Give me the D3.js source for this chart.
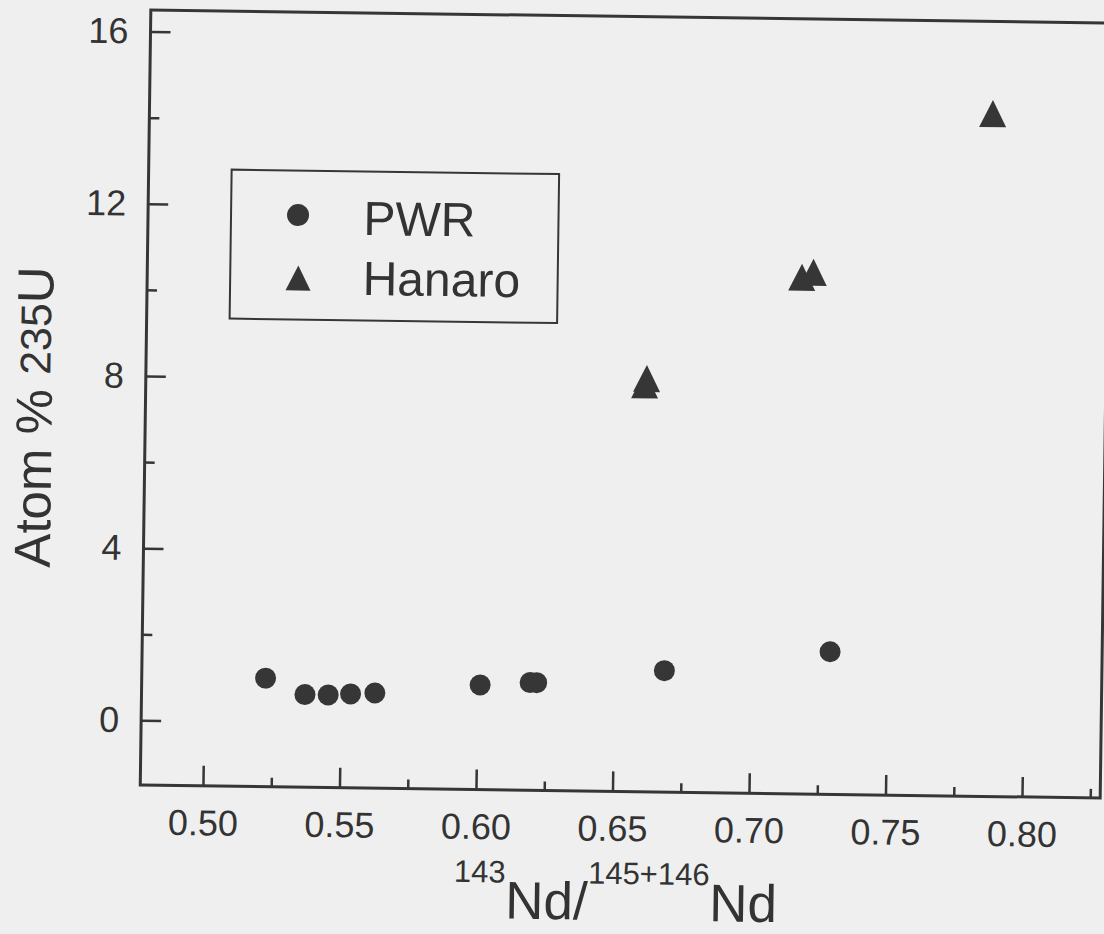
<!DOCTYPE html>
<html>
<head>
<meta charset="utf-8">
<script src="https://cdn.jsdelivr.net/npm/d3@7"></script>
<style>
  body { margin: 0; background: #efefef; }
  svg { display: block; }
  text { font-family: "Liberation Sans", Arial, sans-serif; fill: #333; }
</style>
</head>
<body>
<script>
// dati
var pwrX = [0.5224, 0.5369, 0.5454, 0.5536, 0.5625, 0.6010, 0.6193, 0.6217, 0.6684, 0.7290];
var pwrY = [1.02, 0.65, 0.65, 0.68, 0.71, 0.93, 1.00, 1.00, 1.32, 1.81];
var hanaroX = [0.6605, 0.6598, 0.7168, 0.7210, 0.7859];
var hanaroY = [8.10, 7.95, 10.50, 10.62, 14.36];

var xMajor = [0.50, 0.55, 0.60, 0.65, 0.70, 0.75, 0.80];
var xMinor = [0.525, 0.575, 0.625, 0.675, 0.725, 0.775, 0.825];
var yMajor = [0, 4, 8, 12, 16];
var yMinor = [2, 6, 10, 14];
var legendNames = ["PWR", "Hanaro"];

var W = 1104, H = 934;
var plot = { left: 145.5, right: 1105.5, top: 16.5, bottom: 791.5 };
var ink = "#363636";

var svg = d3.select("body").append("svg")
  .attr("width", W)
  .attr("height", H);

// la scansione originale e' leggermente ruotata
var g = svg.append("g")
  .attr("transform", "rotate(0.78, 625.5, 404)");

var x = d3.scaleLinear()
  .domain([0.47704, 0.82864])
  .range([plot.left, plot.right]);

var y = d3.scaleLinear()
  .domain([-1.5, 16.5])
  .range([plot.bottom, plot.top]);

// assi
var xAxis = g.append("g")
  .attr("transform", "translate(0," + plot.bottom + ")")
  .call(d3.axisBottom(x).tickValues(xMajor).tickSize(-20).tickPadding(24)
    .tickFormat(d3.format(".2f")));
var xAxisMinor = g.append("g")
  .attr("transform", "translate(0," + plot.bottom + ")")
  .call(d3.axisBottom(x).tickValues(xMinor).tickSize(-9).tickFormat(""));

var yAxis = g.append("g")
  .attr("transform", "translate(" + plot.left + ",0)")
  .call(d3.axisLeft(y).tickValues(yMajor).tickSize(-20).tickPadding(22));
var yAxisMinor = g.append("g")
  .attr("transform", "translate(" + plot.left + ",0)")
  .call(d3.axisLeft(y).tickValues(yMinor).tickSize(-10).tickFormat(""));

[xAxis, xAxisMinor, yAxis, yAxisMinor].forEach(function (a) {
  a.select(".domain").remove();
  a.selectAll("line").attr("stroke", ink).attr("stroke-width", 2.5);
  a.selectAll("text").style("font-size", "36px").attr("fill", "#333");
});

// cornice
g.append("rect")
  .attr("x", plot.left)
  .attr("y", plot.top)
  .attr("width", plot.right - plot.left)
  .attr("height", plot.bottom - plot.top)
  .attr("fill", "none")
  .attr("stroke", ink)
  .attr("stroke-width", 3);

function triangle(cx, cy, w, h) {
  return "M" + cx + "," + (cy - h / 2) +
    "L" + (cx - w / 2) + "," + (cy + h / 2) +
    "L" + (cx + w / 2) + "," + (cy + h / 2) + "Z";
}

// punti PWR
g.selectAll("circle.pwr")
  .data(d3.range(pwrX.length))
  .enter()
  .append("circle")
  .attr("class", "pwr")
  .attr("cx", function (i) { return x(pwrX[i]); })
  .attr("cy", function (i) { return y(pwrY[i]); })
  .attr("r", 10.5)
  .attr("fill", ink);

// punti Hanaro
g.selectAll("path.hanaro")
  .data(d3.range(hanaroX.length))
  .enter()
  .append("path")
  .attr("class", "hanaro")
  .attr("d", function (i) { return triangle(x(hanaroX[i]), y(hanaroY[i]), 27, 27); })
  .attr("fill", ink);

// legenda
var leg = g.append("g");
leg.append("rect")
  .attr("x", 228.5).attr("y", 175)
  .attr("width", 327.5).attr("height", 149)
  .attr("fill", "none")
  .attr("stroke", ink)
  .attr("stroke-width", 2);
leg.append("circle")
  .attr("cx", 295.5).attr("cy", 219.5).attr("r", 11)
  .attr("fill", ink);
leg.append("path")
  .attr("d", triangle(296.5, 282.5, 25, 25))
  .attr("fill", ink);
leg.selectAll("text")
  .data(legendNames)
  .enter()
  .append("text")
  .attr("x", 361)
  .attr("y", function (d, i) { return 238.6 + i * 60; })
  .style("font-size", "48px")
  .text(function (d) { return d; });

// titoli degli assi
var yTitle = g.append("text")
  .attr("transform", "translate(52,425) rotate(-90)")
  .attr("text-anchor", "middle")
  .style("font-size", "51px");
yTitle.append("tspan").text("Atom % ");
yTitle.append("tspan").attr("dy", -2).style("font-size", "43px").text("235");
yTitle.append("tspan").attr("dy", 2).text("U");

var xTitle = g.append("text")
  .attr("x", 622)
  .attr("y", 920)
  .attr("text-anchor", "middle")
  .style("font-size", "53px");
xTitle.append("tspan").attr("dy", -36).style("font-size", "31px").text("143");
xTitle.append("tspan").attr("dy", 36).text("Nd/");
xTitle.append("tspan").attr("dy", -36).style("font-size", "31px").text("145+146");
xTitle.append("tspan").attr("dy", 36).text("Nd");
</script>
</body>
</html>
